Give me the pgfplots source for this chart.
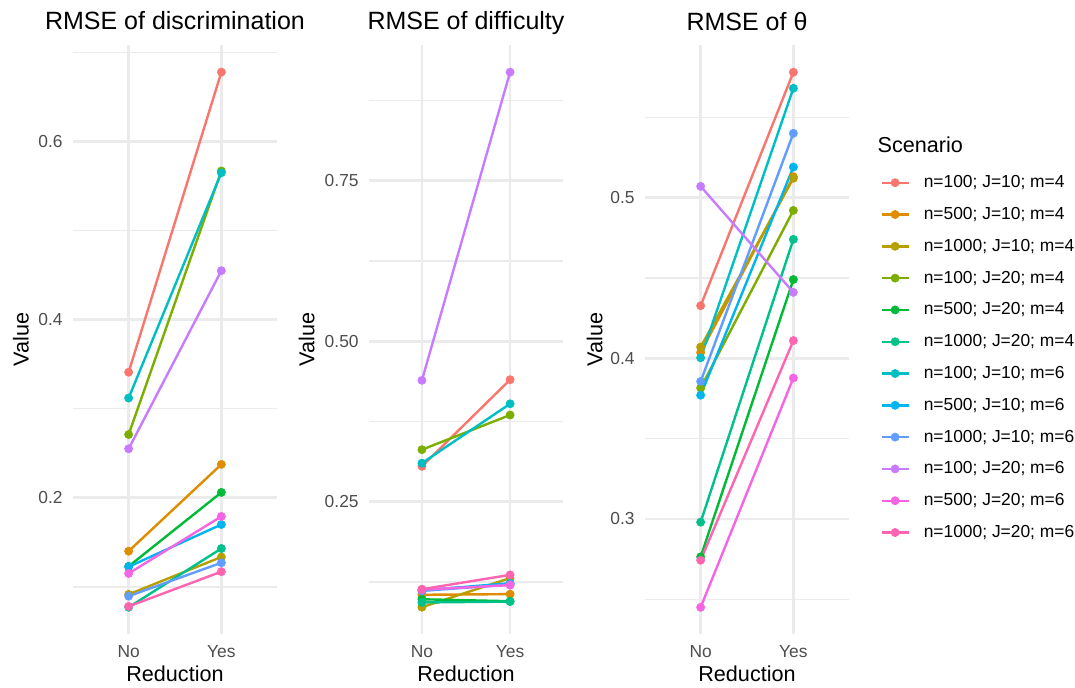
\documentclass[border=0pt]{standalone}
\usepackage{pgfplots}
\pgfplotsset{compat=1.18}
\usepackage{fontspec}
\setmainfont{Liberation Sans}
\definecolor{c1}{HTML}{F8766D}
\definecolor{c2}{HTML}{DE8C00}
\definecolor{c3}{HTML}{B79F00}
\definecolor{c4}{HTML}{7CAE00}
\definecolor{c5}{HTML}{00BA38}
\definecolor{c6}{HTML}{00C08B}
\definecolor{c7}{HTML}{00BFC4}
\definecolor{c8}{HTML}{00B4F0}
\definecolor{c9}{HTML}{619CFF}
\definecolor{c10}{HTML}{C77CFF}
\definecolor{c11}{HTML}{F564E3}
\definecolor{c12}{HTML}{FF64B0}
\definecolor{gridc}{HTML}{EBEBEB}
\definecolor{tickc}{HTML}{4D4D4D}
\pgfplotsset{
  s/.style={color=#1, line width=1.2pt, mark=*, mark size=2.05pt, mark options={solid, line width=0.3pt}},
  panel/.style={
    scale only axis, height=294.3pt,
    xmin=0.4, xmax=2.6, xtick={1,2}, xticklabels={No,Yes},
    axis line style={draw=none}, major tick length=0pt, minor tick length=0pt,
    tick style={draw=none},
    xmajorgrids, ymajorgrids, yminorgrids,
    major grid style={draw=gridc, line width=1.35pt},
    minor grid style={draw=gridc, line width=0.7pt},
    ticklabel style={font=\fontsize{8.7}{10}\selectfont, text=tickc},
    /pgf/number format/assume math mode=true,
    xticklabel style={anchor=north, inner sep=0pt, yshift=-5.5pt},
    yticklabel style={anchor=east, inner sep=0pt, xshift=-5pt},
    xlabel={Reduction}, ylabel={Value},
    every axis x label/.style={at={(axis description cs:0.5,0)}, anchor=base, yshift=-23.9pt, inner sep=0pt, font=\fontsize{10.8}{13}\selectfont},
    every axis title/.style={font=\fontsize{12.5}{15}\selectfont, at={(axis description cs:0.5,1)}, anchor=base, yshift=7.7pt, inner sep=0pt},
    clip=false,
    anchor=south west,
    legend image code/.code={\draw[mark repeat=2,mark phase=2] plot coordinates {(0pt,0pt) (6.75pt,0pt) (13.5pt,0pt)};},
  }
}
\begin{document}
\begin{tikzpicture}
\path (0,0) rectangle (537.5pt,343.5pt);
% Panel 1
\begin{axis}[panel, at={(36.5pt,26.5pt)}, width=102pt,
  title={RMSE of discrimination},
  ymin=0.047, ymax=0.708,
  ytick={0.2,0.4,0.6}, yticklabels={0.2,0.4,0.6},
  minor ytick={0.1,0.3,0.5,0.7},
  every axis y label/.style={at={(axis description cs:-0.255,0.5)}, rotate=90, anchor=center, inner sep=0pt, font=\fontsize{10.8}{13}\selectfont}]
\addplot[s=c1] coordinates {(1,0.341) (2,0.678)};
\addplot[s=c2] coordinates {(1,0.140) (2,0.2375)};
\addplot[s=c3] coordinates {(1,0.0915) (2,0.1335)};
\addplot[s=c4] coordinates {(1,0.271) (2,0.567)};
\addplot[s=c5] coordinates {(1,0.123) (2,0.206)};
\addplot[s=c6] coordinates {(1,0.077) (2,0.143)};
\addplot[s=c7] coordinates {(1,0.312) (2,0.565)};
\addplot[s=c8] coordinates {(1,0.1225) (2,0.170)};
\addplot[s=c9] coordinates {(1,0.0895) (2,0.127)};
\addplot[s=c10] coordinates {(1,0.255) (2,0.455)};
\addplot[s=c11] coordinates {(1,0.115) (2,0.179)};
\addplot[s=c12] coordinates {(1,0.078) (2,0.117)};
\end{axis}
% Panel 2
\begin{axis}[panel, at={(184.5pt,26.5pt)}, width=97pt,
  title={RMSE of difficulty},
  ymin=0.0439, ymax=0.9607,
  ytick={0.25,0.5,0.75}, yticklabels={0.25,0.50,0.75},
  minor ytick={0.125,0.375,0.625,0.875},
  every axis y label/.style={at={(axis description cs:-0.321,0.5)}, rotate=90, anchor=center, inner sep=0pt, font=\fontsize{10.8}{13}\selectfont}]
\addplot[s=c1] coordinates {(1,0.305) (2,0.440)};
\addplot[s=c2] coordinates {(1,0.105) (2,0.106)};
\addplot[s=c3] coordinates {(1,0.0856) (2,0.131)};
\addplot[s=c4] coordinates {(1,0.331) (2,0.385)};
\addplot[s=c5] coordinates {(1,0.098) (2,0.095)};
\addplot[s=c6] coordinates {(1,0.093) (2,0.0944)};
\addplot[s=c7] coordinates {(1,0.310) (2,0.4025)};
\addplot[s=c8] coordinates {(1,0.112) (2,0.123)};
\addplot[s=c9] coordinates {(1,0.111) (2,0.121)};
\addplot[s=c10] coordinates {(1,0.439) (2,0.919)};
\addplot[s=c11] coordinates {(1,0.113) (2,0.120)};
\addplot[s=c12] coordinates {(1,0.1137) (2,0.136)};
\end{axis}
% Panel 3
\begin{axis}[panel, at={(322.5pt,26.5pt)}, width=102pt,
  title={RMSE of θ},
  ymin=0.2284, ymax=0.5947,
  ytick={0.3,0.4,0.5}, yticklabels={0.3,0.4,0.5},
  minor ytick={0.25,0.35,0.45,0.55},
  every axis y label/.style={at={(axis description cs:-0.2466,0.5)}, rotate=90, anchor=center, inner sep=0pt, font=\fontsize{10.8}{13}\selectfont},
  legend cell align=left,
  legend style={at={(axis description cs:1.152,0.781)}, anchor=north west, draw=none, fill=none,
    inner sep=0pt, row sep=7.9pt, column sep=7pt,
    font=\fontsize{8.7}{10}\selectfont,
    nodes={inner sep=0pt, text height=6.5pt, text depth=1.5pt}}]
\addplot[s=c1] coordinates {(1,0.4327) (2,0.578)};
\addlegendentry{n=100; J=10; m=4}
\addplot[s=c2] coordinates {(1,0.4036) (2,0.513)};
\addlegendentry{n=500; J=10; m=4}
\addplot[s=c3] coordinates {(1,0.407) (2,0.512)};
\addlegendentry{n=1000; J=10; m=4}
\addplot[s=c4] coordinates {(1,0.3815) (2,0.492)};
\addlegendentry{n=100; J=20; m=4}
\addplot[s=c5] coordinates {(1,0.2764) (2,0.449)};
\addlegendentry{n=500; J=20; m=4}
\addplot[s=c6] coordinates {(1,0.298) (2,0.474)};
\addlegendentry{n=1000; J=20; m=4}
\addplot[s=c7] coordinates {(1,0.4003) (2,0.568)};
\addlegendentry{n=100; J=10; m=6}
\addplot[s=c8] coordinates {(1,0.377) (2,0.519)};
\addlegendentry{n=500; J=10; m=6}
\addplot[s=c9] coordinates {(1,0.3856) (2,0.540)};
\addlegendentry{n=1000; J=10; m=6}
\addplot[s=c10] coordinates {(1,0.507) (2,0.441)};
\addlegendentry{n=100; J=20; m=6}
\addplot[s=c11] coordinates {(1,0.245) (2,0.3877)};
\addlegendentry{n=500; J=20; m=6}
\addplot[s=c12] coordinates {(1,0.2743) (2,0.411)};
\addlegendentry{n=1000; J=20; m=6}
\end{axis}
\node[anchor=west, inner sep=0pt, font=\fontsize{10.8}{13}\selectfont] at (438.65pt,271pt) {Scenario};
\end{tikzpicture}
\end{document}
